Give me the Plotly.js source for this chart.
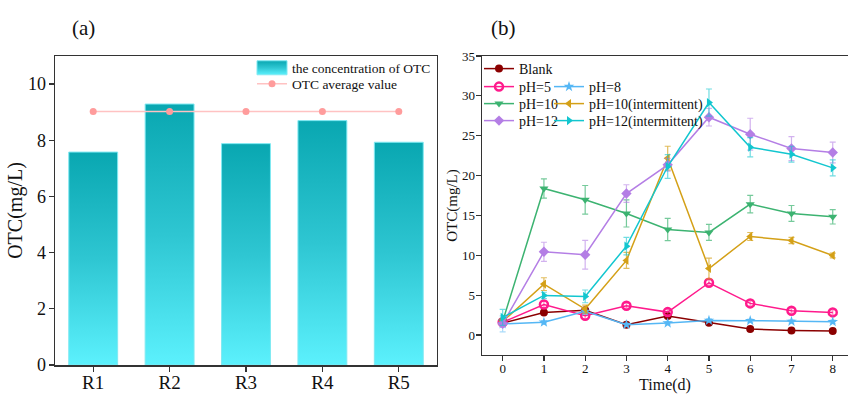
<!DOCTYPE html>
<html><head><meta charset="utf-8">
<script src="https://cdn.plot.ly/plotly-3.0.1.min.js"></script>
<style>body{margin:0;background:#fff}#chart{width:848px;height:394px}</style>
</head><body><div id="chart"></div>
<script>
// ---- Panel (a) data ----
const reactors = ["R1", "R2", "R3", "R4", "R5"];
const otcConc = [7.58, 9.29, 7.88, 8.70, 7.93];
const otcAvg = [9.02, 9.02, 9.02, 9.02, 9.02];

// ---- Panel (b) data ----
const days = [0, 1, 2, 3, 4, 5, 6, 7, 8];
const blank = [1.5, 2.84, 3.1, 1.3, 2.38, 1.55, 0.75, 0.58, 0.5];
const blankErr = [0.2, 0.2, 0.2, 0.15, 0.2, 0.2, 0.15, 0.15, 0.15];
const ph5 = [1.6, 3.84, 2.42, 3.68, 2.88, 6.56, 3.97, 3.05, 2.84];
const ph5Err = [0.3, 0.4, 0.4, 0.3, 0.3, 0.4, 0.3, 0.3, 0.3];
const ph8 = [1.4, 1.6, 2.97, 1.3, 1.5, 1.84, 1.8, 1.71, 1.67];
const ph8Err = [1.0, 0.2, 0.3, 0.2, 0.2, 0.2, 0.2, 0.2, 0.2];
const ph10 = [1.7, 18.38, 16.96, 15.25, 13.24, 12.87, 16.42, 15.25, 14.83];
const ph10Err = [0.4, 1.2, 1.8, 1.7, 1.4, 1.0, 1.1, 1.0, 0.9];
const ph10i = [1.7, 6.39, 3.26, 9.36, 22.18, 8.35, 12.36, 11.86, 9.98];
const ph10iErr = [0.3, 0.8, 0.5, 1.0, 1.5, 1.3, 0.5, 0.4, 0.3];
const ph12 = [1.4, 10.44, 10.07, 17.75, 21.35, 27.32, 25.19, 23.39, 22.89];
const ph12Err = [0.3, 1.2, 1.8, 1.1, 0.8, 1.1, 2.0, 1.5, 1.3];
const ph12i = [2.21, 4.97, 4.85, 11.15, 21.14, 29.16, 23.56, 22.68, 20.97];
const ph12iErr = [1.0, 0.4, 0.8, 1.1, 1.5, 1.7, 1.2, 1.0, 1.0];

const serif = "Times New Roman, Liberation Serif, serif";

function series(name, y, err, color, errColor, symbol, legend, extra) {
  return Object.assign({
    type: "scatter", mode: "lines+markers", name: name, x: days, y: y,
    xaxis: "x2", yaxis: "y2", legend: legend,
    line: {color: color, width: 1.5},
    marker: {symbol: symbol, size: 8, color: color},
    error_y: {type: "data", array: err, visible: true, color: errColor, thickness: 1.2, width: 3}
  }, extra || {});
}

const traces = [
  {type: "bar", name: "the concentration of OTC", x: reactors, y: otcConc,
   marker: {color: "#2cc3cf", line: {color: "#7fe9f2", width: 1}}, legend: "legend"},
  {type: "scatter", mode: "lines+markers", name: "OTC average value", x: reactors, y: otcAvg,
   line: {color: "#ffc2c2", width: 1.5}, marker: {color: "#ff9c9c", size: 7, symbol: "circle"}, legend: "legend9"},

  series("Blank", blank, blankErr, "#8b0000", "rgba(139,0,0,0.6)", "circle", "legend2"),
  series("pH=5", ph5, ph5Err, "#ff1a8c", "rgba(255,26,140,0.5)", "circle-open", "legend3",
         {marker: {symbol: "circle-open", size: 8, color: "#ff1a8c", line: {width: 2.5}}}),
  series("pH=8", ph8, ph8Err, "#55b7f5", "rgba(85,183,245,0.5)", "star", "legend4"),
  series("pH=10", ph10, ph10Err, "#3cb371", "rgba(60,179,113,0.7)", "triangle-down", "legend5"),
  series("pH=10(intermittent)", ph10i, ph10iErr, "#d4a017", "rgba(212,160,23,0.7)", "triangle-left", "legend6"),
  series("pH=12", ph12, ph12Err, "#b47ee5", "rgba(180,126,229,0.6)", "diamond", "legend7"),
  series("pH=12(intermittent)", ph12i, ph12iErr, "#12c6cf", "rgba(18,198,207,0.6)", "triangle-right", "legend8")
];

const axLine = {showline: true, linecolor: "#333", linewidth: 1.5, zeroline: false, showgrid: false,
  ticks: "outside", ticklen: 5, tickwidth: 1.2, tickcolor: "#333"};

// helper: legend box placed by pixel position (plot area: x 55..848, y 56..365)
function leg(px, py, size) {
  return {x: (px - 55) / 793, xanchor: "left", y: (365 - py) / 309, yanchor: "middle",
    bgcolor: "rgba(0,0,0,0)", font: {size: size, family: serif, color: "#111"}, itemwidth: 30};
}

const layout = {
  width: 848, height: 394,
  margin: {l: 55, r: 0, t: 56, b: 29},
  paper_bgcolor: "#fff", plot_bgcolor: "#fff",
  font: {family: serif, color: "#111"},
  bargap: 0.36,
  xaxis: Object.assign({}, axLine, {domain: [0, 0.4817], range: [-0.5, 4.5], mirror: true,
    tickfont: {size: 19, family: serif}, ticklabelstandoff: -5}),
  yaxis: Object.assign({}, axLine, {range: [0, 11], mirror: true, tickvals: [0, 2, 4, 6, 8, 10],
    tickfont: {size: 18, family: serif}, ticklabelstandoff: -1,
    title: {text: "OTC(mg/L)", font: {size: 20, family: serif}, standoff: 0}}),
  xaxis2: Object.assign({}, axLine, {domain: [0.5385, 1], range: [-0.5, 8.37], mirror: true, anchor: "y2",
    tickvals: days, tickfont: {size: 13, family: serif}, ticklabelstandoff: -4,
    title: {text: "Time(d)", font: {size: 16, family: serif}, standoff: 8}}),
  yaxis2: Object.assign({}, axLine, {domain: [0.0324, 1], range: [-2.5, 35], anchor: "x2", mirror: false,
    tickvals: [0, 5, 10, 15, 20, 25, 30, 35], tickfont: {size: 13, family: serif}, ticklabelstandoff: -2,
    title: {text: "OTC(mg/L)", font: {size: 15, family: serif}, standoff: 0}}),
  legend: leg(252, 68, 13.5),
  legend9: leg(252, 84, 13.5),
  legend2: leg(479, 69, 14),
  legend3: leg(479, 87, 14),
  legend4: leg(549, 87, 14),
  legend5: leg(479, 104, 14),
  legend6: leg(549, 104, 14),
  legend7: leg(479, 121, 14),
  legend8: leg(549, 121, 14),
  showlegend: true,
  annotations: [
    {text: "(a)", xref: "paper", yref: "paper", x: (83 - 55) / 793, y: (365 - 28) / 309, showarrow: false,
     xanchor: "center", yanchor: "middle", font: {size: 21, family: serif}},
    {text: "(b)", xref: "paper", yref: "paper", x: (503 - 55) / 793, y: (365 - 28) / 309, showarrow: false,
     xanchor: "center", yanchor: "middle", font: {size: 21, family: serif}}
  ]
};

function applyGradient(gd) {
  const svg = gd.querySelector(".main-svg");
  if (!svg) return;
  const ns = "http://www.w3.org/2000/svg";
  let defs = svg.querySelector("defs");
  if (!defs) { defs = document.createElementNS(ns, "defs"); svg.insertBefore(defs, svg.firstChild); }
  if (!document.getElementById("barGrad")) {
    const g = document.createElementNS(ns, "linearGradient");
    g.setAttribute("id", "barGrad"); g.setAttribute("x1", "0"); g.setAttribute("y1", "0");
    g.setAttribute("x2", "0"); g.setAttribute("y2", "1");
    [["0", "#09a7b1"], ["0.5", "#2ec6d2"], ["1", "#5cf1fd"]].forEach(function (s) {
      const st = document.createElementNS(ns, "stop");
      st.setAttribute("offset", s[0]); st.setAttribute("stop-color", s[1]);
      g.appendChild(st);
    });
    defs.appendChild(g);
  }
  gd.querySelectorAll(".barlayer .point path").forEach(function (p) { p.style.fill = "url(#barGrad)"; });
  gd.querySelectorAll("g.traces").forEach(function (t) {
    if ((t.textContent || "").indexOf("concentration") < 0) return;
    t.querySelectorAll("g.legendpoints path").forEach(function (p) {
      p.style.fill = "url(#barGrad)";
      p.setAttribute("d", "M15,7H-15V-7H15Z");
    });
  });
}

Plotly.newPlot("chart", traces, layout, {staticPlot: true, displayModeBar: false}).then(function (gd) {
  applyGradient(gd);
  setTimeout(function () { applyGradient(gd); }, 50);
  gd.on("plotly_afterplot", function () { applyGradient(gd); });
});
</script>
</body></html>
